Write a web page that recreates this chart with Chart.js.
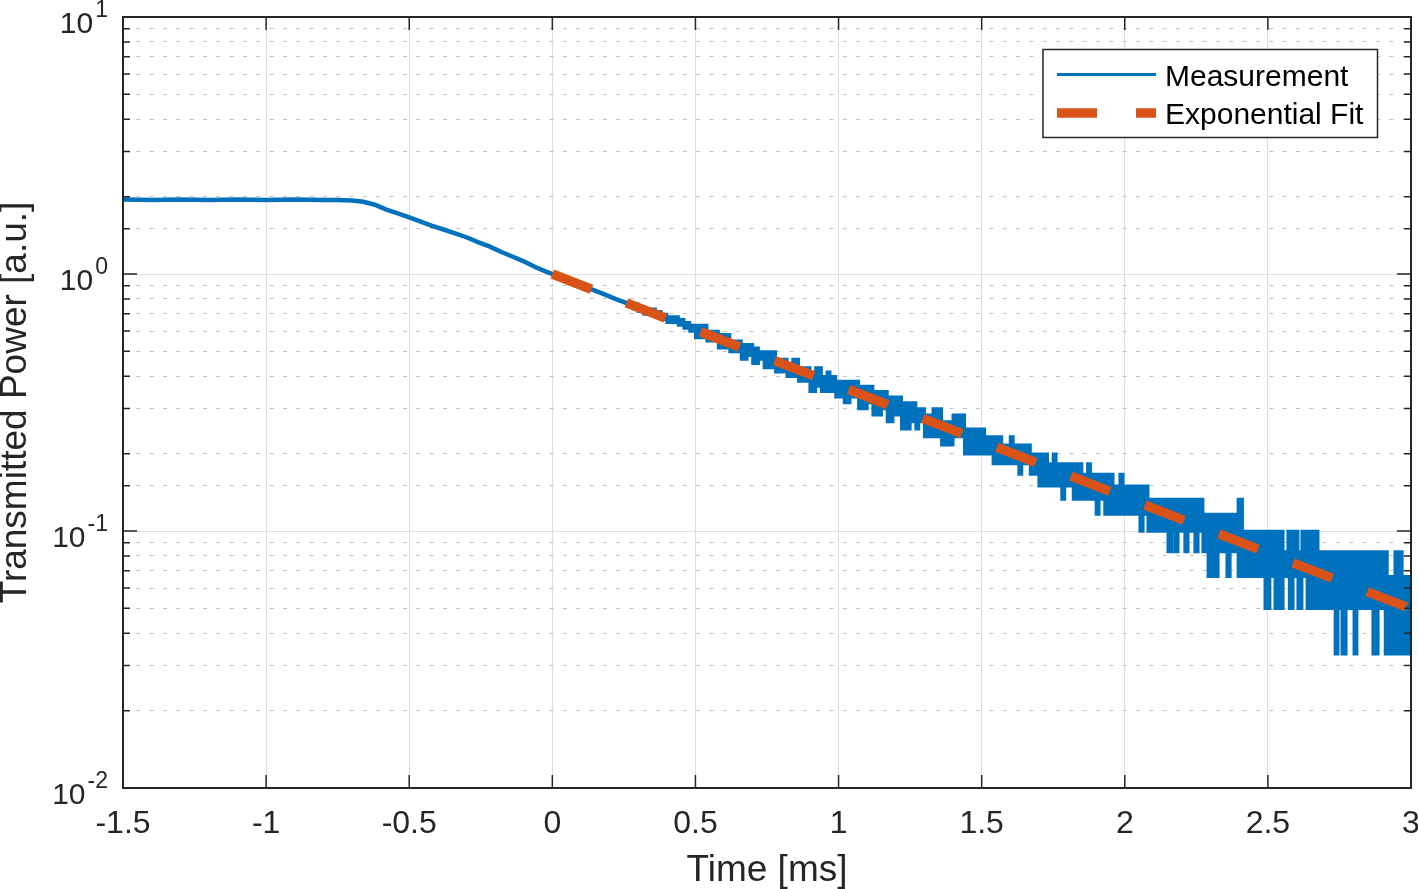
<!DOCTYPE html>
<html>
<head>
<meta charset="utf-8">
<script src="https://cdn.jsdelivr.net/npm/chart.js@4.4.1/dist/chart.umd.min.js"></script>
<style>
html,body{margin:0;padding:0;background:#fff;}
#wrap{width:1418px;height:889px;position:relative;}
</style>
</head>
<body>
<div id="wrap"><canvas id="c" width="1418" height="889"></canvas></div>
<script>
// ---------- data ----------
// smooth part of the measured trace (time in ms, power in a.u.)
const measX = [-1.5,-1.4,-1.3,-1.2,-1.1,-1.0,-0.9,-0.8,-0.75,-0.7,-0.66,-0.62,-0.58,-0.54,-0.5,-0.46,-0.42,-0.38,-0.34,-0.3,-0.26,-0.22,-0.18,-0.14,-0.1,-0.06,-0.02,0.02,0.06,0.1,0.14,0.18,0.22,0.26,0.3,0.34];
const measY = [1.95,1.94,1.95,1.94,1.95,1.94,1.95,1.94,1.94,1.93,1.91,1.86,1.78,1.72,1.66,1.6,1.54,1.49,1.44,1.39,1.33,1.28,1.22,1.17,1.12,1.065,1.02,0.98,0.94,0.905,0.87,0.835,0.8,0.77,0.74,0.71];

// noisy (quantised) part of the measured trace: upper / lower envelope per time step
const bandT = [0.28,0.30,0.32,0.34,0.36,0.38,0.40,0.42,0.44,0.46,
  0.48,0.50,0.52,0.54,0.56,0.58,0.60,0.62,0.64,0.66,
  0.68,0.70,0.72,0.74,0.76,0.78,0.80,0.82,0.84,0.86,
  0.88,0.90,0.92,0.94,0.96,0.97,0.99,1.02,1.04,1.07,
  1.10,1.12,1.15,1.17,1.19,1.22,1.25,1.26,1.27,1.28,
  1.30,1.33,1.36,1.39,1.40,1.41,1.44,1.46,1.49,1.50,
  1.51,1.54,1.57,1.60,1.61,1.63,1.64,1.67,1.70,1.73,
  1.75,1.76,1.78,1.79,1.82,1.85,1.87,1.88,1.90,1.91,
  1.93,1.941,1.948,1.959,1.983,1.994,2.053,2.064,2.081,2.151,
  2.165,2.176,2.186,2.210,2.221,2.245,2.256,2.273,2.291,2.305,
  2.315,2.326,2.357,2.368,2.396,2.411,2.490,2.507,2.525,2.553,
  2.570,2.575,2.588,2.605,2.619,2.637,2.675,2.735,2.745,2.759,
  2.773,2.801,2.811,2.867,2.885,2.892,2.899,2.910,2.917,2.944,
  2.969,3.000];
const bandHi = [0.7645,0.7479,0.7313,0.7313,0.7147,0.698,0.6814,0.6814,0.6648,0.6482,
  0.6316,0.6316,0.6316,0.5983,0.5983,0.5817,0.5817,0.5485,0.5485,0.5318,
  0.5318,0.5152,0.4986,0.4986,0.4986,0.4654,0.4654,0.4487,0.4654,0.4321,
  0.4321,0.4155,0.4321,0.3989,0.4155,0.3989,0.3823,0.3823,0.3823,0.3656,
  0.3656,0.349,0.349,0.3324,0.3324,0.3158,0.2992,0.3158,0.2992,0.2992,
  0.2825,0.2992,0.2659,0.2659,0.2825,0.2825,0.2493,0.2493,0.2327,0.2493,
  0.2327,0.2327,0.2161,0.2327,0.2161,0.2161,0.2161,0.1994,0.1994,0.1828,
  0.1994,0.1828,0.1828,0.1828,0.1828,0.1662,0.1828,0.1662,0.1662,0.1662,
  0.1662,0.1496,0.1662,0.1496,0.1662,0.1496,0.1496,0.1496,0.133,0.133,
  0.133,0.133,0.133,0.133,0.133,0.133,0.133,0.1163,0.1163,0.1163,
  0.1163,0.1163,0.1163,0.1163,0.133,0.0997,0.0997,0.0997,0.0997,0.0831,
  0.0997,0.0997,0.0997,0.0831,0.0997,0.0997,0.0831,0.0831,0.0831,0.0831,
  0.0831,0.0831,0.0831,0.0831,0.0831,0.0665,0.0831,0.0831,0.0665,0.0831,
  0.0665,0.0665];
const bandLo = [0.7313,0.7147,0.698,0.698,0.6814,0.6648,0.6482,0.6482,0.6316,0.6149,
  0.5983,0.5651,0.5651,0.5485,0.5485,0.5152,0.5152,0.4986,0.4986,0.4654,
  0.482,0.4487,0.4654,0.4321,0.4321,0.4155,0.4155,0.3989,0.3989,0.3823,
  0.3823,0.349,0.3656,0.349,0.349,0.349,0.3324,0.3158,0.3324,0.2992,
  0.3158,0.2825,0.2992,0.2659,0.2825,0.2493,0.2659,0.2659,0.2493,0.2659,
  0.2327,0.2327,0.2161,0.2161,0.2327,0.2327,0.1994,0.1994,0.1994,0.1994,
  0.1994,0.1828,0.1828,0.1828,0.1828,0.1662,0.1828,0.1662,0.1496,0.1496,
  0.1496,0.1496,0.133,0.1496,0.133,0.133,0.133,0.133,0.1163,0.133,
  0.1163,0.1163,0.1163,0.1163,0.1163,0.1163,0.0997,0.1163,0.0997,0.0831,
  0.0997,0.0831,0.0997,0.0831,0.0997,0.0831,0.0997,0.0831,0.0665,0.0831,
  0.0665,0.0831,0.0665,0.0831,0.0665,0.0665,0.0499,0.0665,0.0499,0.0665,
  0.0665,0.0499,0.0665,0.0499,0.0665,0.0499,0.0499,0.0332,0.0499,0.0332,
  0.0499,0.0332,0.0499,0.0332,0.0499,0.0499,0.0499,0.0332,0.0332,0.0332,
  0.0332,0.0332];

// exponential fit (end points)
const fitX = [0, 3];
const fitY = [1.0, 0.0498];

// tick labels
const xTickValues = [-1.5,-1,-0.5,0,0.5,1,1.5,2,2.5,3];
const xTickLabels = ['-1.5','-1','-0.5','0','0.5','1','1.5','2','2.5','3'];
const yTickValues = [0.01, 0.1, 1, 10];
const yTickBase = '10';
const yTickExp = ['-2','-1','0','1'];

const seriesNames = ['Measurement', 'Exponential Fit'];
const BLUE = '#0072BD', ORANGE = '#D95319', AXIS = '#262626';
const FONT = '"Liberation Sans", Arial, Helvetica, sans-serif';

// ---------- helpers ----------
const pts = (xs, ys) => xs.map((x, i) => ({x: x, y: ys[i]}));
const isDecade = v => { const e = Math.log10(v); return Math.abs(e - Math.round(e)) < 1e-9; };

Chart.defaults.font.family = FONT;

const axisDecor = {
  id: 'axisDecor',
  afterDatasetsDraw(chart) {
    const {ctx, chartArea: a, scales} = chart;
    const xs = scales.x, ys = scales.y;
    ctx.save();
    // inward tick marks on all four sides
    ctx.strokeStyle = AXIS;
    ctx.lineWidth = 1.5;
    ctx.beginPath();
    xs.ticks.forEach(t => {
      const px = xs.getPixelForValue(t.value);
      ctx.moveTo(px, a.bottom); ctx.lineTo(px, a.bottom - 13);
      ctx.moveTo(px, a.top); ctx.lineTo(px, a.top + 13);
    });
    ys.ticks.forEach(t => {
      const py = ys.getPixelForValue(t.value);
      const len = isDecade(t.value) ? 14 : 7;
      ctx.moveTo(a.left, py); ctx.lineTo(a.left + len, py);
      ctx.moveTo(a.right, py); ctx.lineTo(a.right - len, py);
    });
    ctx.stroke();
    // axes box
    ctx.lineWidth = 2;
    ctx.strokeRect(a.left, a.top, a.right - a.left, a.bottom - a.top);
    // y tick labels with superscript exponent
    ctx.fillStyle = AXIS;
    ctx.textAlign = 'left';
    ctx.textBaseline = 'alphabetic';
    yTickValues.forEach((v, i) => {
      const py = ys.getPixelForValue(v);
      ctx.font = '23px ' + FONT;
      const supW = ctx.measureText(yTickExp[i]).width;
      ctx.font = '30px ' + FONT;
      const baseW = ctx.measureText(yTickBase).width;
      const right = a.left - 15;
      const sx = right - supW;
      ctx.fillText(yTickBase, sx - 2 - baseW, py + 16);
      ctx.font = '23px ' + FONT;
      ctx.fillText(yTickExp[i], sx, py);
    });
    ctx.restore();
  },
  afterDraw(chart) {
    const {ctx, chartArea: a} = chart;
    const ds = chart.data.datasets;
    const bx = a.right - 368, by = a.top + 32.5, bw = 334.5, bh = 88;
    ctx.save();
    ctx.fillStyle = '#ffffff';
    ctx.fillRect(bx, by, bw, bh);
    ctx.strokeStyle = AXIS;
    ctx.lineWidth = 1.5;
    ctx.strokeRect(bx, by, bw, bh);
    const rows = [by + 25, by + 63.5];
    [0, 1].forEach((di, r) => {
      const d = ds[di];
      const y = rows[r];
      ctx.beginPath();
      ctx.strokeStyle = d.borderColor;
      ctx.lineWidth = di === 0 ? 3 : d.borderWidth;
      ctx.lineCap = 'butt';
      ctx.setLineDash(di === 0 ? [] : [40, 39]);
      ctx.moveTo(bx + 14, y);
      ctx.lineTo(bx + 113, y);
      ctx.stroke();
      ctx.setLineDash([]);
      ctx.fillStyle = '#000000';
      ctx.font = '30px ' + FONT;
      ctx.textAlign = 'left';
      ctx.textBaseline = 'alphabetic';
      ctx.fillText(d.label, bx + 122, y + 11.4);
    });
    ctx.restore();
  }
};

new Chart(document.getElementById('c'), {
  type: 'line',
  data: {
    datasets: [
      { label: seriesNames[0], data: pts(measX, measY), borderColor: BLUE, backgroundColor: BLUE,
        borderWidth: 4.5, pointRadius: 0, fill: false, order: 1 },
      { label: seriesNames[1], data: pts(fitX, fitY), borderColor: ORANGE, backgroundColor: ORANGE,
        borderWidth: 9.5, borderDash: [42, 37.5], borderCapStyle: 'butt', pointRadius: 0, fill: false, order: 0 },
      { label: 'meas-upper', data: pts(bandT, bandHi), borderColor: BLUE, backgroundColor: BLUE,
        borderWidth: 3, pointRadius: 0, stepped: 'before', fill: '+1', order: 2 },
      { label: 'meas-lower', data: pts(bandT, bandLo), borderColor: BLUE, backgroundColor: BLUE,
        borderWidth: 3, pointRadius: 0, stepped: 'before', fill: false, order: 3 }
    ]
  },
  options: {
    responsive: false,
    devicePixelRatio: 1,
    animation: false,
    layout: { padding: { top: 17, right: 7, bottom: 0, left: 0 } },
    plugins: { legend: { display: false }, tooltip: { enabled: false } },
    scales: {
      x: {
        type: 'linear', min: -1.5, max: 3,
        ticks: {
          stepSize: 0.5, maxRotation: 0, autoSkip: false, padding: 17, color: AXIS,
          font: { size: 32 },
          callback: v => { const k = xTickValues.findIndex(t => Math.abs(t - v) < 1e-9); return k >= 0 ? xTickLabels[k] : ''; }
        },
        grid: { color: '#dfdfdf', lineWidth: 1, drawTicks: false },
        border: { display: false },
        title: { display: true, text: 'Time [ms]', color: AXIS, font: { size: 37, lineHeight: 1 }, padding: { top: 0, bottom: 0 } },
        afterFit: s => { s.height = 101; s.paddingLeft = 0; s.paddingRight = 0; }
      },
      y: {
        type: 'logarithmic', min: 0.01, max: 10,
        ticks: { display: false, autoSkip: false },
        grid: {
          color: c => (c.tick && !isDecade(c.tick.value)) ? '#c0c0c0' : '#dfdfdf',
          lineWidth: 1, drawTicks: false
        },
        border: { display: false, dash: c => (c.tick && !isDecade(c.tick.value)) ? [4, 9.33] : [] },
        title: { display: true, text: 'Transmitted Power [a.u.]', color: AXIS, font: { size: 37, lineHeight: 1 }, padding: { top: -3, bottom: 0 } },
        afterFit: s => { s.width = 123; }
      }
    }
  },
  plugins: [axisDecor]
});
</script>
</body>
</html>
